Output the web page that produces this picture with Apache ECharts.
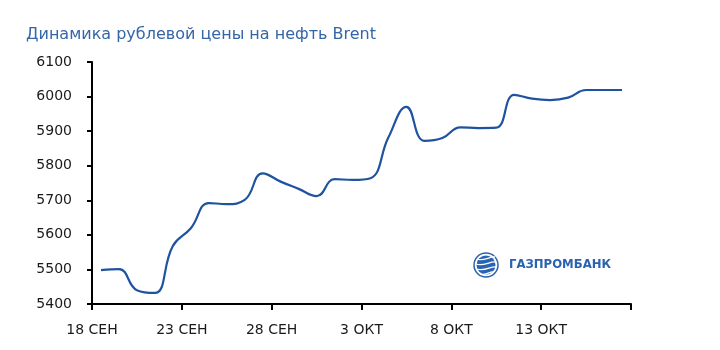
<!DOCTYPE html>
<html>
<head>
<meta charset="utf-8">
<script src="https://cdn.jsdelivr.net/npm/echarts@6/dist/echarts.min.js"></script>
<style>
html,body{margin:0;padding:0;background:#fff;}
#chart{width:720px;height:350px;}
</style>
</head>
<body>
<div id="chart"></div>
<script>
// Title and labels
var titleText = 'Динамика рублевой цены на нефть Brent';
var logoText = 'ГАЗПРОМБАНК';
// Daily categories (18 Sep .. 17 Oct), one per day
var days = ['18.09','19.09','20.09','21.09','22.09','23.09','24.09','25.09','26.09','27.09',
            '28.09','29.09','30.09','01.10','02.10','03.10','04.10','05.10','06.10','07.10',
            '08.10','09.10','10.10','11.10','12.10','13.10','14.10','15.10','16.10','17.10'];
// Ruble price of Brent (RUB per barrel)
var prices = [5498, 5501, 5440, 5432, 5568, 5619, 5692, 5689, 5701, 5778,
              5754, 5733, 5712, 5761, 5759, 5764, 5882, 5970, 5872, 5880,
              5911, 5909, 5910, 6005, 5994, 5990, 5997, 6019, 6019, 6019];
// X tick labels, one every 5 days (last tick has no label)
var xTickLabels = ['18 СЕН', '23 СЕН', '28 СЕН', '3 ОКТ', '8 ОКТ', '13 ОКТ', ''];
// Y axis ticks
var yMin = 5400, yMax = 6100, yStep = 100;

var seriesData = prices.map(function (v, i) { return [i + 0.5, v]; });

var chart = echarts.init(document.getElementById('chart'), null, {renderer: 'canvas'});
var font = 'DejaVu Sans';
chart.setOption({
  animation: false,
  backgroundColor: '#ffffff',
  title: {
    text: titleText,
    left: 21,
    top: 22,
    textStyle: {color: '#3566a8', fontFamily: font, fontSize: 16, fontWeight: 'normal'}
  },
  grid: {left: 92, right: 89, top: 62, bottom: 46, containLabel: false},
  xAxis: {
    type: 'value',
    min: 0,
    max: days.length,
    interval: 5,
    splitLine: {show: false},
    axisLine: {show: true, onZero: false, lineStyle: {color: '#000', width: 2}},
    axisTick: {show: true, length: 6, lineStyle: {color: '#000', width: 2}},
    axisLabel: {
      margin: 19,
      color: '#1a1a1a',
      fontFamily: font,
      fontSize: 14,
      showMaxLabel: true,
      formatter: function (v) { return xTickLabels[Math.round(v / 5)] || ''; }
    }
  },
  yAxis: {
    type: 'value',
    min: yMin,
    max: yMax,
    interval: yStep,
    splitLine: {show: false},
    axisLine: {show: true, lineStyle: {color: '#000', width: 2}},
    axisTick: {show: true, length: 5, lineStyle: {color: '#000', width: 2}},
    axisLabel: {margin: 20, color: '#1a1a1a', fontFamily: font, fontSize: 14,
      formatter: function (v) { return String(v); }}
  },
  series: [{
    type: 'line',
    data: seriesData,
    smooth: 0.45,
    showSymbol: false,
    symbol: 'none',
    lineStyle: {color: '#1f53a0', width: 2.2}
  }],
  graphic: [
    {type: 'circle', shape: {cx: 486, cy: 265, r: 12}, style: {fill: '#ffffff', stroke: '#2a63b0', lineWidth: 1.5}},
    {type: 'circle', shape: {cx: 486, cy: 265, r: 9.5}, style: {fill: '#2a63b0'}},
    {type: 'bezierCurve', shape: {x1: 477, y1: 259, x2: 495, y2: 257, cpx1: 483, cpy1: 262, cpx2: 490, cpy2: 256}, style: {stroke: '#ffffff', lineWidth: 1.3, fill: 'none'}},
    {type: 'bezierCurve', shape: {x1: 476, y1: 264, x2: 496, y2: 262, cpx1: 483, cpy1: 267, cpx2: 490, cpy2: 261}, style: {stroke: '#ffffff', lineWidth: 1.3, fill: 'none'}},
    {type: 'bezierCurve', shape: {x1: 477, y1: 269, x2: 496, y2: 267, cpx1: 484, cpy1: 272, cpx2: 491, cpy2: 266}, style: {stroke: '#ffffff', lineWidth: 1.3, fill: 'none'}},
    {type: 'bezierCurve', shape: {x1: 480, y1: 274, x2: 494, y2: 272, cpx1: 485, cpy1: 276, cpx2: 490, cpy2: 271}, style: {stroke: '#ffffff', lineWidth: 1.3, fill: 'none'}},
    {type: 'text', left: 509, top: 258, style: {text: logoText, fill: '#2a63b0', font: 'bold 13px "DejaVu Sans Condensed"'}}
  ]
});
</script>
</body>
</html>
